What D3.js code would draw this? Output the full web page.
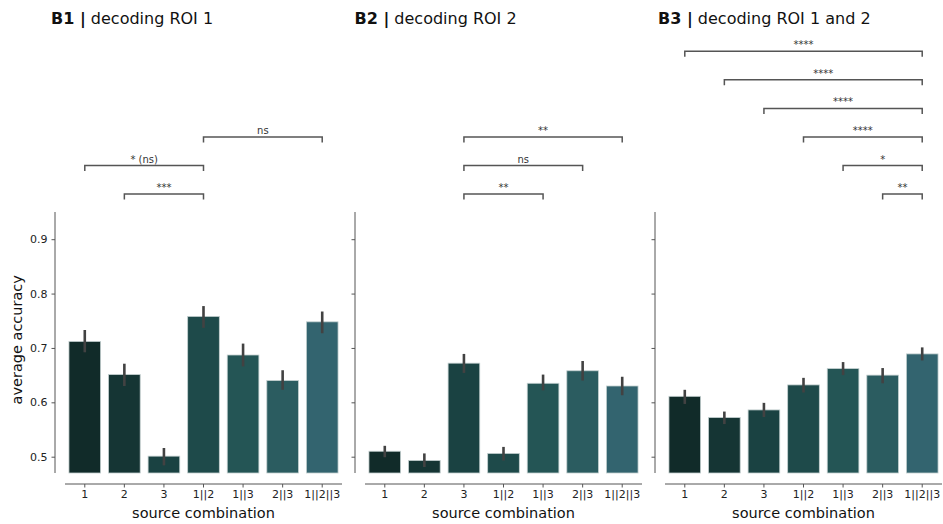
<!DOCTYPE html>
<html>
<head>
<meta charset="utf-8">
<script src="https://cdn.jsdelivr.net/npm/d3@7"></script>
<style>
  body { margin: 0; background: #fff; }
  svg text { font-family: "DejaVu Sans", sans-serif; }
</style>
</head>
<body>
<div id="app"></div>
<script>
// categories and colours shared by all three panels
const categories = ["1", "2", "3", "1||2", "1||3", "2||3", "1||2||3"];
const barColors = ["#112b29", "#153534", "#1a4242", "#1e4a4a", "#245555", "#2b5c60", "#33646f"];
const yTicks = [0.5, 0.6, 0.7, 0.8, 0.9];

// panel titles
const titleBold = ["B1 |", "B2 |", "B3 |"];
const titleText = ["decoding ROI 1", "decoding ROI 2", "decoding ROI 1 and 2"];

// mean accuracy and CI bounds per panel
const meansB1 = [0.712, 0.651, 0.501, 0.758, 0.687, 0.640, 0.748];
const lowB1 = [0.692, 0.630, 0.484, 0.737, 0.666, 0.623, 0.727];
const highB1 = [0.733, 0.671, 0.516, 0.777, 0.708, 0.659, 0.767];

const meansB2 = [0.510, 0.493, 0.672, 0.506, 0.635, 0.658, 0.630];
const lowB2 = [0.499, 0.481, 0.654, 0.493, 0.622, 0.640, 0.613];
const highB2 = [0.520, 0.506, 0.689, 0.518, 0.651, 0.676, 0.647];

const meansB3 = [0.611, 0.572, 0.586, 0.632, 0.662, 0.650, 0.689];
const lowB3 = [0.597, 0.560, 0.573, 0.618, 0.650, 0.635, 0.677];
const highB3 = [0.623, 0.583, 0.599, 0.645, 0.674, 0.663, 0.701];

// significance brackets: [from, to, label, level]
const statsB1 = [["2", "1||2", "***", 0], ["1", "1||2", "* (ns)", 1], ["1||2", "1||2||3", "ns", 2]];
const statsB2 = [["3", "1||3", "**", 0], ["3", "2||3", "ns", 1], ["3", "1||2||3", "**", 2]];
const statsB3 = [
  ["2||3", "1||2||3", "**", 0], ["1||3", "1||2||3", "*", 1], ["1||2", "1||2||3", "****", 2],
  ["3", "1||2||3", "****", 3], ["2", "1||2||3", "****", 4], ["1", "1||2||3", "****", 5]
];

const panels = [
  { means: meansB1, low: lowB1, high: highB1, stats: statsB1 },
  { means: meansB2, low: lowB2, high: highB2, stats: statsB2 },
  { means: meansB3, low: lowB3, high: highB3, stats: statsB3 }
];

const width = 943;
const height = 524;
const svg = d3.select("#app").append("svg").attr("width", width).attr("height", height);

const y = d3.scaleLinear().domain([0.47, 0.95]).range([473, 212]);
const bracketBase = 0.983; // value of the lowest bracket
const bracketStep = 0.0525;

panels.forEach((p, i) => {
  const left = 65 + i * 300;
  const x = d3.scaleBand().domain(categories).range([left, left + 277]).paddingInner(0.2).paddingOuter(0.1);
  const cx = c => x(c) + x.bandwidth() / 2;
  const g = svg.append("g");

  // TITLE
  const title = g.append("text").attr("x", left - 14 + i * 3.5).attr("y", 24).attr("font-size", 16).attr("fill", "#111");
  title.append("tspan").attr("font-weight", "bold").text(titleBold[i]);
  title.append("tspan").text(" " + titleText[i]);

  // BARS
  g.selectAll(".bar")
    .data(categories)
    .join("rect")
    .attr("x", d => x(d))
    .attr("width", x.bandwidth())
    .attr("y", (d, k) => y(p.means[k]))
    .attr("height", (d, k) => y(0.47) - y(p.means[k]))
    .attr("fill", (d, k) => barColors[k])
    .attr("stroke", "#c4d0d0")
    .attr("stroke-width", 0.8);

  // ERROR BARS
  g.selectAll(".err")
    .data(categories)
    .join("line")
    .attr("x1", d => cx(d))
    .attr("x2", d => cx(d))
    .attr("y1", (d, k) => y(p.low[k]))
    .attr("y2", (d, k) => y(p.high[k]))
    .attr("stroke", "#424242")
    .attr("stroke-width", 2.6);

  // Y AXIS (offset spine)
  const yAxis = g.append("g")
    .attr("transform", `translate(${left - 10},0)`)
    .call(d3.axisLeft(y).tickValues(yTicks).tickSize(3.5).tickPadding(4)
      .tickFormat(i === 0 ? d3.format(".1f") : () => ""));
  yAxis.select(".domain").attr("d", `M0,${y(0.95)}V${y(0.47)}`).attr("stroke", "#555");
  yAxis.selectAll(".tick line").attr("stroke", "#555");
  yAxis.selectAll(".tick text").attr("font-size", 11).attr("fill", "#222");

  // X AXIS (offset spine)
  const xAxis = g.append("g")
    .attr("transform", "translate(0,484)")
    .call(d3.axisBottom(x).tickSize(3.5).tickPadding(3));
  xAxis.select(".domain").attr("d", `M${left},0H${left + 277}`).attr("stroke", "#555");
  xAxis.selectAll(".tick line").attr("stroke", "#555");
  xAxis.selectAll(".tick text").attr("font-size", 11).attr("fill", "#222");

  g.append("text")
    .attr("x", left + 277 / 2)
    .attr("y", 518)
    .attr("text-anchor", "middle")
    .attr("font-size", 14.5)
    .attr("fill", "#111")
    .text("source combination");

  if (i === 0) {
    g.append("text")
      .attr("transform", `translate(22,${y(0.715)}) rotate(-90)`)
      .attr("text-anchor", "middle")
      .attr("font-size", 14.5)
      .attr("fill", "#111")
      .text("average accuracy");
  }

  // SIGNIFICANCE BRACKETS
  p.stats.forEach(([a, b, label, level]) => {
    const by = y(bracketBase + level * bracketStep);
    g.append("path")
      .attr("d", `M${cx(a)},${by + 5.5}V${by}H${cx(b)}V${by + 5.5}`)
      .attr("fill", "none")
      .attr("stroke", "#555")
      .attr("stroke-width", 1.5);
    g.append("text")
      .attr("x", (cx(a) + cx(b)) / 2)
      .attr("y", by - 3)
      .attr("text-anchor", "middle")
      .attr("font-size", 10)
      .attr("fill", "#333")
      .text(label);
  });
});
</script>
</body>
</html>
